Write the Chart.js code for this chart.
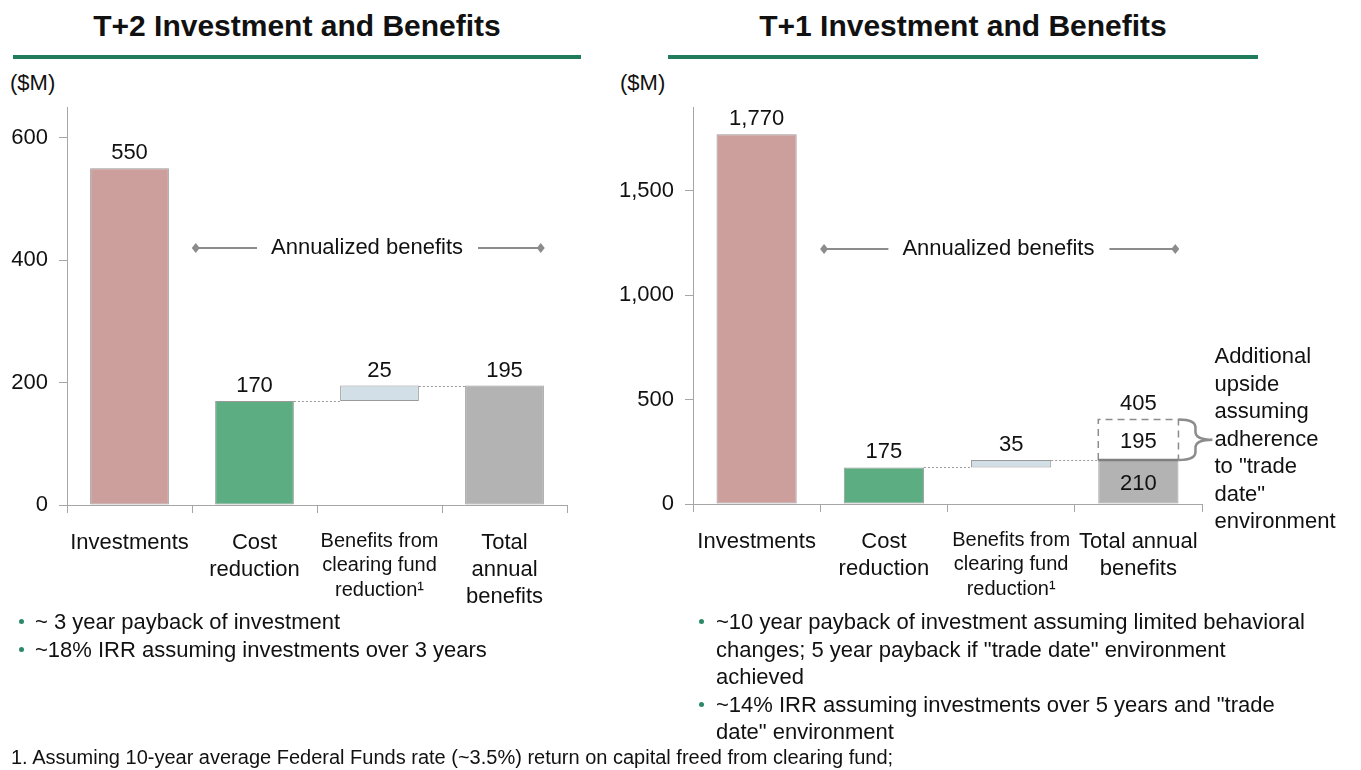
<!DOCTYPE html>
<html lang="en">
<head>
<meta charset="UTF-8">
<title>T+2 and T+1 Investment and Benefits</title>
<script src="https://cdn.jsdelivr.net/npm/chart.js"></script>
<style>
  body { margin: 0; width: 1361px; height: 770px; position: relative; overflow: hidden; background: #fff;
         font-family: 'Liberation Sans', Arial, sans-serif; color: #111; }
  .title { position: absolute; top: 8px; font-size: 30px; line-height: 36px; font-weight: bold; text-align: center; }
  .rule { position: absolute; top: 55px; height: 4px; background: #1f7d5c; }
  .unit { position: absolute; top: 70px; font-size: 22px; line-height: 26px; }
  canvas { position: absolute; top: 100px; }
  ul { position: absolute; top: 608px; margin: 0; padding: 0; list-style: none; font-size: 22px; line-height: 27.5px; }
  li { position: relative; }
  li::before { content: ''; position: absolute; left: 19px; top: 11px; width: 5px; height: 5px; border-radius: 50%; background: #2a8a66; }
  .foot { position: absolute; left: 11px; top: 745px; font-size: 20px; line-height: 24px; }
</style>
</head>
<body>
  <div class="title" style="left:13px; width:568px;">T+2 Investment and Benefits</div>
  <div class="title" style="left:668px; width:590px;">T+1 Investment and Benefits</div>
  <div class="rule" style="left:13px; width:568px;"></div>
  <div class="rule" style="left:668px; width:590px;"></div>
  <div class="unit" style="left:10px;">($M)</div>
  <div class="unit" style="left:620px;">($M)</div>

  <canvas id="t2Chart" width="600" height="520" style="left:0px;"></canvas>
  <canvas id="t1Chart" width="741" height="520" style="left:620px;"></canvas>

  <ul style="left:0px; width:640px;">
    <li style="padding-left:35px;">~ 3 year payback of investment</li>
    <li style="padding-left:35px;">~18% IRR assuming investments over 3 years</li>
  </ul>
  <ul style="left:680px; width:670px;">
    <li style="padding-left:36px;">~10 year payback of investment assuming limited behavioral<br>changes; 5 year payback if "trade date" environment<br>achieved</li>
    <li style="padding-left:36px;">~14% IRR assuming investments over 5 years and "trade<br>date" environment</li>
  </ul>
  <div class="foot">1. Assuming 10-year average Federal Funds rate (~3.5%) return on capital freed from clearing fund;</div>

<script>
// categories (x tick labels)
const t2Labels = ['Investments', ['Cost', 'reduction'], ['Benefits from', 'clearing fund', 'reduction¹'], ['Total', 'annual', 'benefits']];
const t1Labels = ['Investments', ['Cost', 'reduction'], ['Benefits from', 'clearing fund', 'reduction¹'], ['Total annual', 'benefits']];

// values ($M): investments, cost reduction, clearing fund benefit, total annual benefits
const t2Values = [550, 170, 25, 195];
const t1Values = [1770, 175, 35, 210];

// T+1 extra upside if "trade date" environment is reached
const t1Upside = 195;
const t1UpsideTotal = 405;
const upsideNote = ['Additional', 'upside', 'assuming', 'adherence', 'to "trade', 'date"', 'environment'];

// y axis
const t2Ticks = [0, 200, 400, 600];
const t1Ticks = [0, 500, 1000, 1500];
const t2Max = 650;
const t1Max = 1900;

// height of the "Annualized benefits" marker
const t2AnnualizedAt = 420;
const t1AnnualizedAt = 1220;

const FONT = "'Liberation Sans', Arial, sans-serif";
Chart.defaults.font.family = FONT;
Chart.defaults.font.size = 22;
Chart.defaults.color = '#111';

const barColors = ['#cc9f9d', '#5cae82', '#d3dfe6', '#b3b3b3'];
const axisGray = '#a6a6a6';

// floating bars: the clearing fund bar sits on top of the cost reduction bar
function waterfall(v) {
    return [[0, v[0]], [0, v[1]], [v[1], v[1] + v[2]], [0, v[3]]];
}

const fmt = v => v.toLocaleString('en-US');

const notesPlugin = {
    id: 'notes',
    afterDraw(chart, args, opts) {
        const ctx = chart.ctx;
        const xs = chart.scales.x;
        const ys = chart.scales.y;
        const bars = chart.getDatasetMeta(0).data.map(b => b.getProps(['x', 'width'], true));
        const left = i => bars[i].x - bars[i].width / 2;
        const right = i => bars[i].x + bars[i].width / 2;
        const v = opts.values;

        ctx.save();

        // dotted connectors
        ctx.strokeStyle = '#9a9a9a';
        ctx.lineWidth = 1;
        ctx.setLineDash([2, 2]);
        ctx.beginPath();
        let yy = Math.round(ys.getPixelForValue(v[1])) + 0.5;
        ctx.moveTo(right(1), yy); ctx.lineTo(left(2), yy);
        yy = Math.round(ys.getPixelForValue(v[1] + v[2])) + 0.5;
        ctx.moveTo(right(2), yy); ctx.lineTo(left(3), yy);
        ctx.stroke();
        ctx.setLineDash([]);

        // value labels
        ctx.font = '22px ' + FONT;
        ctx.fillStyle = '#111';
        ctx.textAlign = 'center';
        ctx.textBaseline = 'middle';
        const tops = [v[0], v[1], v[1] + v[2], v[3]];
        for (let i = 0; i < 4; i++) {
            if (i === 3 && opts.upside) continue;
            ctx.fillText(fmt(v[i]), bars[i].x, ys.getPixelForValue(tops[i]) - 15);
        }

        // upside box on the total bar
        if (opts.upside) {
            const yBase = ys.getPixelForValue(v[3]);
            const yTop = ys.getPixelForValue(opts.upsideTotal);
            const y0 = ys.getPixelForValue(0);
            const l = left(3), r = right(3);
            ctx.fillText(fmt(v[3]), bars[3].x, (yBase + y0) / 2 + 2);
            ctx.fillText(fmt(opts.upside), bars[3].x, (yBase + yTop) / 2 + 2);
            ctx.fillText(fmt(opts.upsideTotal), bars[3].x, yTop - 15);

            ctx.strokeStyle = '#8c8c8c';
            ctx.lineWidth = 1.5;
            ctx.setLineDash([7, 5]);
            ctx.beginPath();
            ctx.moveTo(l, yBase); ctx.lineTo(l, yTop); ctx.lineTo(r, yTop); ctx.lineTo(r, yBase);
            ctx.stroke();
            ctx.setLineDash([]);
            ctx.lineWidth = 2.5;
            ctx.strokeStyle = '#7f7f7f';
            ctx.beginPath();
            ctx.moveTo(l, yBase); ctx.lineTo(r, yBase);
            ctx.stroke();

            // curly brace
            const mid = (yTop + yBase) / 2;
            ctx.strokeStyle = '#8c8c8c';
            ctx.lineWidth = 2.5;
            ctx.beginPath();
            ctx.moveTo(r, yTop);
            ctx.quadraticCurveTo(r + 17, yTop, r + 17, yTop + 8);
            ctx.lineTo(r + 17, mid - 8);
            ctx.quadraticCurveTo(r + 17, mid, r + 34, mid);
            ctx.quadraticCurveTo(r + 17, mid, r + 17, mid + 8);
            ctx.lineTo(r + 17, yBase - 8);
            ctx.quadraticCurveTo(r + 17, yBase, r, yBase);
            ctx.stroke();

            ctx.textAlign = 'left';
            opts.note.forEach((line, i) => {
                ctx.fillText(line, r + 36, mid + (i - 3) * 27.5);
            });
            ctx.textAlign = 'center';
        }

        // "Annualized benefits" marker
        const ay = Math.round(ys.getPixelForValue(opts.annualizedAt));
        const ax0 = xs.getPixelForValue(0.53);
        const ax1 = xs.getPixelForValue(3.29);
        const tx = xs.getPixelForValue(1.9);
        const label = 'Annualized benefits';
        const tw = ctx.measureText(label).width;
        ctx.fillText(label, tx, ay);
        ctx.strokeStyle = '#8c8c8c';
        ctx.fillStyle = '#8c8c8c';
        ctx.lineWidth = 2;
        ctx.beginPath();
        ctx.moveTo(ax0, ay); ctx.lineTo(tx - tw / 2 - 14, ay);
        ctx.moveTo(tx + tw / 2 + 15, ay); ctx.lineTo(ax1, ay);
        ctx.stroke();
        [ax0, ax1].forEach(px => {
            ctx.beginPath();
            ctx.moveTo(px, ay - 5); ctx.lineTo(px + 4, ay); ctx.lineTo(px, ay + 5); ctx.lineTo(px - 4, ay);
            ctx.closePath();
            ctx.fill();
        });

        ctx.restore();
    }
};

function makeChart(id, cfg) {
    return new Chart(document.getElementById(id), {
        type: 'bar',
        data: {
            labels: cfg.labels,
            datasets: [{
                data: waterfall(cfg.values),
                backgroundColor: barColors,
                borderColor: '#999999',
                borderWidth: 1,
                borderSkipped: false,
                barPercentage: 0.63,
                categoryPercentage: 1
            }]
        },
        options: {
            responsive: false,
            animation: false,
            layout: { padding: { top: 7, right: cfg.padRight, left: 0, bottom: 0 } },
            plugins: {
                legend: { display: false },
                tooltip: { enabled: false },
                notes: {
                    values: cfg.values,
                    annualizedAt: cfg.annualizedAt,
                    upside: cfg.upside,
                    upsideTotal: cfg.upsideTotal,
                    note: cfg.note
                }
            },
            scales: {
                x: {
                    grid: { offset: true, drawOnChartArea: false, tickLength: 8, color: axisGray },
                    border: { color: axisGray },
                    ticks: {
                        padding: 16,
                        maxRotation: 0,
                        autoSkip: false,
                        font: c => (c.index === 2 ? { size: 20, lineHeight: 1.22 } : { size: 22, lineHeight: 1.23 })
                    },
                    afterFit: s => { s.height = cfg.xHeight; s.paddingLeft = 0; s.paddingRight = 0; }
                },
                y: {
                    min: 0,
                    max: cfg.max,
                    grid: { drawOnChartArea: false, tickLength: 8, color: axisGray },
                    border: { color: axisGray },
                    ticks: { padding: 11, callback: v => fmt(v) },
                    afterBuildTicks: s => { s.ticks = cfg.ticks.map(v => ({ value: v })); },
                    afterFit: s => { s.width = cfg.yWidth; s.paddingTop = 0; s.paddingBottom = 0; }
                }
            }
        },
        plugins: [notesPlugin]
    });
}

makeChart('t2Chart', {
    labels: t2Labels, values: t2Values, ticks: t2Ticks, max: t2Max,
    annualizedAt: t2AnnualizedAt, yWidth: 67, padRight: 33, xHeight: 115
});

makeChart('t1Chart', {
    labels: t1Labels, values: t1Values, ticks: t1Ticks, max: t1Max,
    annualizedAt: t1AnnualizedAt, upside: t1Upside, upsideTotal: t1UpsideTotal, note: upsideNote,
    yWidth: 73, padRight: 159, xHeight: 116
});
</script>
</body>
</html>
